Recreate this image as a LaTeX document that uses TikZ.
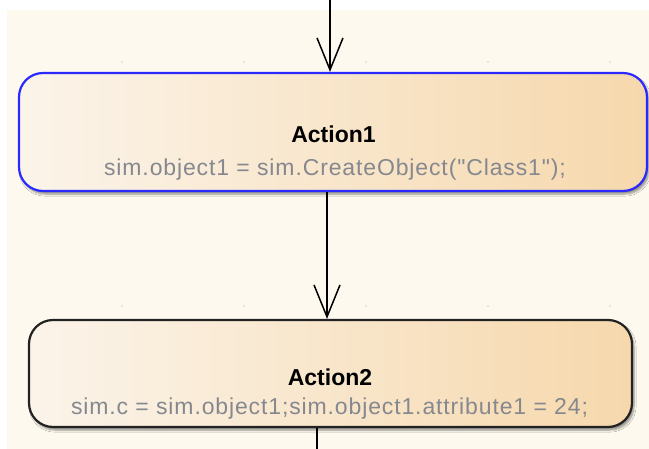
\documentclass[tikz,border=0pt]{standalone}
\usepackage{fontspec}
\setmainfont{Liberation Sans}
\newfontfamily\codefont[LetterSpace=3.8]{Liberation Sans}
\usetikzlibrary{arrows.meta,shadows.blur}

\definecolor{canvas}{HTML}{FDF9EF}
\definecolor{boxl}{HTML}{FBF4EA}
\definecolor{boxr}{HTML}{F6D8AC}
\definecolor{actblue}{HTML}{2A2AFF}
\definecolor{actblack}{HTML}{222222}
\definecolor{codegray}{HTML}{86888F}
\definecolor{dotgray}{HTML}{A8A49C}

\tikzset{
  actbox/.style={rounded corners=24pt, left color=boxl, right color=boxr,
    line width=2.2pt, inner sep=0pt,
    blur shadow={shadow xshift=2pt, shadow yshift=-3pt, shadow blur steps=6, shadow opacity=45}},
  flow/.style={line width=1.5pt, -{Straight Barb[length=32pt,width=26pt,line width=1.5pt]}},
  title/.style={anchor=base, font=\fontsize{23}{27}\selectfont\bfseries},
  code/.style={anchor=base, text=codegray, font=\codefont\fontsize{23}{27}\selectfont},
}

\begin{document}
\begin{tikzpicture}[x=1pt,y=-1pt]
\useasboundingbox (0,0) rectangle (649,449);
\fill[white] (0,0) rectangle (649,449);
\fill[canvas] (7,10) rectangle (649,449);

\foreach \gx in {122,244,366,488,610} {
  \fill[dotgray] (\gx,62) circle (0.7pt);
  \fill[dotgray] (\gx,306) circle (0.7pt);
}

\coordinate (entry) at (330,0);
\coordinate (lane) at (327,0);
\coordinate (exit) at (317,449);

\node[actbox, draw=actblue, minimum width=628pt, minimum height=118pt] (act1) at (333,132) {};
\node[actbox, draw=actblack, minimum width=603pt, minimum height=107pt] (act2) at (330.5,373.5) {};

\node[title] (act1name) at (333.5,143) {Action1};
\node[code] (act1code) at (335,176) {sim.object1 = sim.CreateObject("Class1");};

\node[title] (act2name) at (330,386) {Action2};
\node[code] (act2code) at (329.5,415) {sim.c = sim.object1;sim.object1.attribute1 = 24;};

\draw[flow] (entry) -- (entry |- act1.north);
\draw[flow] (lane |- act1.south) -- (lane |- act2.north);
\draw[line width=1.5pt] (exit |- act2.south) -- (exit);
\end{tikzpicture}
\end{document}
